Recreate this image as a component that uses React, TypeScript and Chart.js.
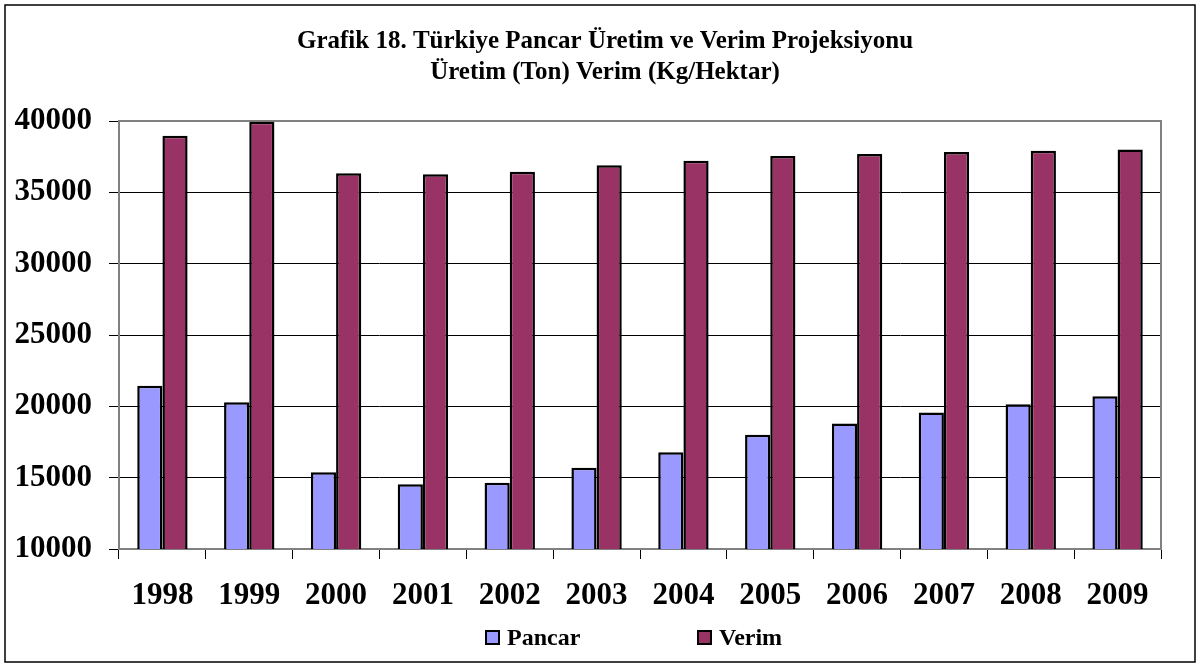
import React, { useEffect, useRef } from "react";
import { Chart, registerables } from "chart.js";

Chart.register(...registerables);

const years = ["1998", "1999", "2000", "2001", "2002", "2003", "2004", "2005", "2006", "2007", "2008", "2009"];
const pancar = [21450, 20280, 15380, 14540, 14650, 15700, 16780, 18000, 18790, 19560, 20140, 20700];
const verim = [38970, 39950, 36330, 36260, 36440, 36890, 37210, 37540, 37690, 37830, 37920, 38010];
const seriesNames = ["Pancar", "Verim"];
const titleLines = ["Grafik 18. Türkiye Pancar Üretim ve Verim Projeksiyonu", "Üretim (Ton) Verim (Kg/Hektar)"];
const yMin = 10000;
const yMax = 40000;
const yStep = 5000;

const FONT = "'Liberation Serif', 'Times New Roman', serif";

const frameTitleLegend = {
  id: "frameTitleLegend",
  beforeDatasetsDraw(chart: any) {
    const { ctx, chartArea } = chart;
    ctx.save();
    ctx.strokeStyle = "#808080";
    ctx.lineWidth = 2;
    ctx.strokeRect(chartArea.left, chartArea.top, chartArea.right - chartArea.left, chartArea.bottom - chartArea.top);
    ctx.restore();
  },
  afterDraw(chart: any) {
    const { ctx } = chart;
    ctx.save();
    ctx.strokeStyle = "#000";
    ctx.lineWidth = 1.5;
    ctx.strokeRect(5, 5, 1190, 657);
    // title
    ctx.fillStyle = "#000";
    ctx.font = `bold 25px ${FONT}`;
    ctx.textAlign = "center";
    ctx.textBaseline = "middle";
    titleLines.forEach((line, i) => ctx.fillText(line, 605, 42 + i * 31));
    // legend
    const positions = [486, 698];
    const cy = 638;
    ctx.font = `bold 24px ${FONT}`;
    ctx.textAlign = "left";
    chart.data.datasets.forEach((ds: any, i: number) => {
      const x = positions[i];
      ctx.fillStyle = ds.backgroundColor;
      ctx.fillRect(x, cy - 7, 13, 13);
      ctx.strokeStyle = "#000";
      ctx.lineWidth = 2;
      ctx.strokeRect(x, cy - 7, 13, 13);
      ctx.fillStyle = "#000";
      ctx.fillText(ds.label, x + 21, cy + 1);
    });
    ctx.restore();
  },
};

export default function App() {
  const ref = useRef<HTMLCanvasElement>(null);
  useEffect(() => {
    document.body.style.margin = "0";
    const chart = new Chart(ref.current!, {
      type: "bar",
      data: {
        labels: years,
        datasets: [
          { label: seriesNames[0], data: pancar, backgroundColor: "#9999FF", borderColor: "#000", borderWidth: 2.5, borderSkipped: "bottom" },
          { label: seriesNames[1], data: verim, backgroundColor: "#993366", borderColor: "#000", borderWidth: 2.5, borderSkipped: "bottom" },
        ],
      },
      options: {
        animation: false,
        responsive: false,
        maintainAspectRatio: false,
        layout: { padding: { left: 0, right: 36, top: 121, bottom: 50 } },
        datasets: { bar: { categoryPercentage: 0.58, barPercentage: 1 } },
        plugins: {
          legend: { display: false },
          tooltip: { enabled: false },
          title: { display: false },
        },
        scales: {
          x: {
            offset: true,
            grid: { display: true, drawOnChartArea: false, drawTicks: true, tickLength: 10, color: "#000", offset: true },
            border: { display: false },
            ticks: { color: "#000", font: { family: FONT, size: 31, weight: "bold" }, padding: 18, maxRotation: 0 },
            afterFit: (s: any) => { s.height = 65; },
          },
          y: {
            min: yMin,
            max: yMax,
            grid: { color: "#000", lineWidth: 1, tickLength: 10, drawTicks: true },
            border: { display: false },
            ticks: {
              stepSize: yStep,
              color: "#000",
              font: { family: FONT, size: 31, weight: "bold" },
              padding: 17,
              callback: (v: any) => String(v),
            },
            afterFit: (s: any) => { s.width = 119; },
          },
        },
      },
      plugins: [frameTitleLegend],
    });
    return () => chart.destroy();
  }, []);
  return (
    <div style={{ position: "absolute", left: 0, top: 0, width: 1197, height: 664, background: "#fff" }}>
      <canvas ref={ref} width={1197} height={664} style={{ width: 1197, height: 664 }} />
    </div>
  );
}
